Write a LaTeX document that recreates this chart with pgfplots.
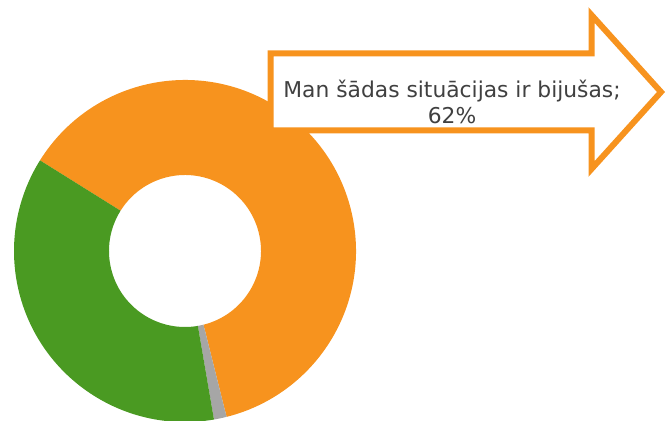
\documentclass[border=0pt]{standalone}
\usepackage{pgfplots}
\pgfplotsset{compat=1.18}
\usepackage{fontspec}
\setmainfont{DejaVu Sans}
\definecolor{cOrange}{HTML}{F7931E}
\definecolor{cGreen}{HTML}{4A9A22}
\definecolor{cGrey}{HTML}{A6A6A6}
\definecolor{cText}{HTML}{404040}
% donut data (percent)
\def\vOrange{62.2}
\def\vGrey{1.2}
\def\vGreen{36.6}
\pgfmathsetmacro\aA{148}
\pgfmathsetmacro\aB{\aA-\vOrange*3.6}
\pgfmathsetmacro\aC{\aB-\vGrey*3.6}
\pgfmathsetmacro\aD{\aC-\vGreen*3.6}
\begin{document}
\begin{tikzpicture}
\begin{axis}[x=1bp,y=1bp,xmin=0,xmax=665,ymin=0,ymax=421,hide axis,clip=true,scale only axis]
\fill[cOrange] (axis cs:185,170) ++(\aA:171bp) arc[start angle=\aA, end angle=\aB, radius=171bp] -- ++(\aB+180:95bp) arc[start angle=\aB, end angle=\aA, radius=76bp] -- cycle;
\fill[cGrey] (axis cs:185,170) ++(\aB:171bp) arc[start angle=\aB, end angle=\aC, radius=171bp] -- ++(\aC+180:95bp) arc[start angle=\aC, end angle=\aB, radius=76bp] -- cycle;
\fill[cGreen] (axis cs:185,170) ++(\aC:171bp) arc[start angle=\aC, end angle=\aD, radius=171bp] -- ++(\aD+180:95bp) arc[start angle=\aD, end angle=\aC, radius=76bp] -- cycle;
\filldraw[fill=white, draw=cOrange, line width=6bp, miter limit=10] (axis cs:270.5,367.5) -- (axis cs:591.5,367.5) -- (axis cs:591.5,406) -- (axis cs:661,329) -- (axis cs:591.5,252) -- (axis cs:591.5,290.5) -- (axis cs:270.5,290.5) -- cycle;
\node[align=center, font=\fontsize{21.8bp}{26bp}\selectfont, text=cText, inner sep=0pt] at (axis cs:452,319.5) {Man šādas situācijas ir bijušas;\\62\%};
\end{axis}
\pgfresetboundingbox
\useasboundingbox (0,0) rectangle (665bp,421bp);
\end{tikzpicture}
\end{document}
